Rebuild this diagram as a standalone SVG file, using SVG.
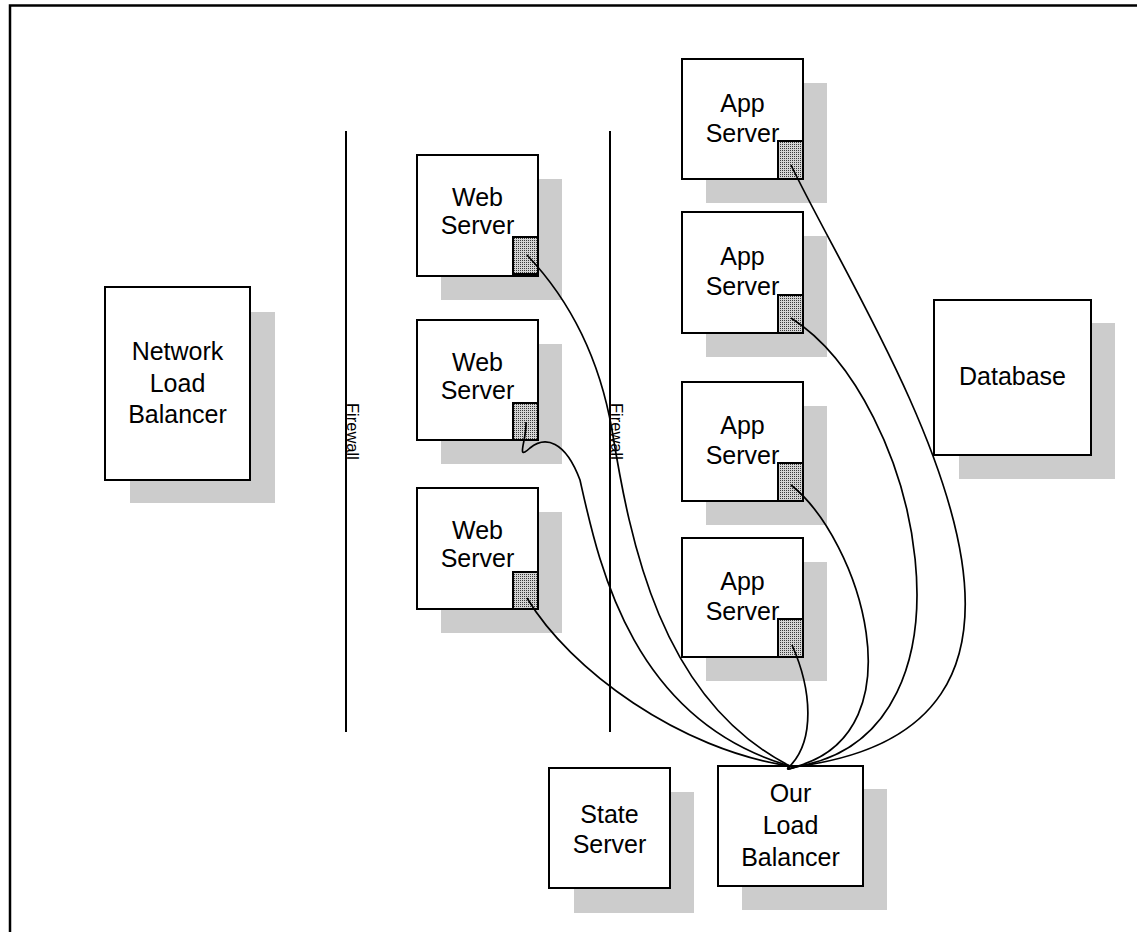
<svg xmlns="http://www.w3.org/2000/svg" width="1137" height="932" viewBox="0 0 1137 932">
  <defs>
    <pattern id="stipple" width="2" height="2" patternUnits="userSpaceOnUse">
      <rect width="2" height="2" fill="#d4d4d4"/>
      <rect width="1" height="1" fill="#3a3a3a"/>
    </pattern>
  </defs>
  <style>
    .shadow { fill: #cccccc; }
    .box { fill: #ffffff; stroke: #000; stroke-width: 2; }
    .port { fill: url(#stipple); stroke: #000; stroke-width: 2; }
    .label { font-family: "Liberation Sans", Arial, sans-serif; font-size: 25px; fill: #000; text-anchor: middle; }
    .fw { font-family: "Liberation Sans", Arial, sans-serif; font-size: 16.5px; fill: #000; }
    .wall { stroke: #000; stroke-width: 2; }
    .link { fill: none; stroke: #000; stroke-width: 1.7; }
  </style>

  <rect width="1137" height="932" fill="#ffffff"/>
  <!-- page frame -->
  <path d="M10,940 V5.5 H1145" fill="none" stroke="#000" stroke-width="2.5"/>

  <!-- firewalls -->
  <g id="firewall-1">
    <line class="wall" x1="346" y1="131" x2="346" y2="732"/>
    <text class="fw" transform="translate(347,403) rotate(90)">Firewall</text>
  </g>
  <g id="firewall-2">
    <line class="wall" x1="610" y1="131" x2="610" y2="732"/>
    <text class="fw" transform="translate(611,403) rotate(90)">Firewall</text>
  </g>

  <g id="network-load-balancer">
    <rect class="shadow" x="130" y="312" width="145" height="191"/>
    <rect class="box" x="105" y="287" width="145" height="193"/>
    <text class="label" x="177.5" y="360">Network</text>
    <text class="label" x="177.5" y="392">Load</text>
    <text class="label" x="177.5" y="423">Balancer</text>
  </g>

  <g id="web-server-1">
    <rect class="shadow" x="441" y="179" width="121" height="121"/>
    <rect class="box" x="417" y="155" width="121" height="121"/>
    <text class="label" x="477.5" y="206">Web</text>
    <text class="label" x="477.5" y="234">Server</text>
    <rect class="port" x="513" y="237" width="25" height="37"/>
  </g>
  <g id="web-server-2">
    <rect class="shadow" x="441" y="344" width="121" height="120"/>
    <rect class="box" x="417" y="320" width="121" height="120"/>
    <text class="label" x="477.5" y="371">Web</text>
    <text class="label" x="477.5" y="399">Server</text>
    <rect class="port" x="513" y="403" width="25" height="37"/>
  </g>
  <g id="web-server-3">
    <rect class="shadow" x="441" y="512" width="121" height="121"/>
    <rect class="box" x="417" y="488" width="121" height="121"/>
    <text class="label" x="477.5" y="539">Web</text>
    <text class="label" x="477.5" y="567">Server</text>
    <rect class="port" x="513" y="572" width="25" height="37"/>
  </g>

  <g id="app-server-1">
    <rect class="shadow" x="706" y="83" width="121" height="120"/>
    <rect class="box" x="682" y="59" width="121" height="120"/>
    <text class="label" x="742.5" y="112">App</text>
    <text class="label" x="742.5" y="142">Server</text>
    <rect class="port" x="778" y="141" width="25" height="38"/>
  </g>
  <g id="app-server-2">
    <rect class="shadow" x="706" y="236" width="121" height="121"/>
    <rect class="box" x="682" y="212" width="121" height="121"/>
    <text class="label" x="742.5" y="265">App</text>
    <text class="label" x="742.5" y="295">Server</text>
    <rect class="port" x="778" y="295" width="25" height="38"/>
  </g>
  <g id="app-server-3">
    <rect class="shadow" x="706" y="406" width="121" height="119"/>
    <rect class="box" x="682" y="382" width="121" height="119"/>
    <text class="label" x="742.5" y="434">App</text>
    <text class="label" x="742.5" y="464">Server</text>
    <rect class="port" x="778" y="463" width="25" height="38"/>
  </g>
  <g id="app-server-4">
    <rect class="shadow" x="706" y="562" width="121" height="119"/>
    <rect class="box" x="682" y="538" width="121" height="119"/>
    <text class="label" x="742.5" y="590">App</text>
    <text class="label" x="742.5" y="620">Server</text>
    <rect class="port" x="778" y="619" width="25" height="38"/>
  </g>

  <g id="database">
    <rect class="shadow" x="959" y="323" width="156" height="156"/>
    <rect class="box" x="934" y="300" width="157" height="155"/>
    <text class="label" x="1012.5" y="385">Database</text>
  </g>

  <g id="state-server">
    <rect class="shadow" x="574" y="792" width="120" height="121"/>
    <rect class="box" x="549" y="768" width="121" height="120"/>
    <text class="label" x="609.5" y="823">State</text>
    <text class="label" x="609.5" y="853">Server</text>
  </g>

  <g id="our-load-balancer">
    <rect class="shadow" x="742" y="789" width="145" height="121"/>
    <rect class="box" x="718" y="766" width="145" height="120"/>
    <text class="label" x="790.5" y="802">Our</text>
    <text class="label" x="790.5" y="834">Load</text>
    <text class="label" x="790.5" y="866">Balancer</text>
  </g>

  <!-- links from each server port down to our load balancer -->
  <g id="connectors">
    <path class="link" d="M527,255 C565,295 598,350 612,430 C630,540 660,700 790,766"/>
    <path class="link" d="M526,422 C527,440 515,462 530,448 C545,436 565,440 580,480 C598,560 630,720 790,766"/>
    <path class="link" d="M527,598 C570,670 680,750 790,766"/>
    <path class="link" d="M791,165 C870,330 1135,720 800,766 C790,768 785,771 790,766"/>
    <path class="link" d="M791,318 C920,400 990,730 800,766 C790,769 784,771 790,766"/>
    <path class="link" d="M791,485 C860,540 920,730 798,766 C790,769 785,770 790,766"/>
    <path class="link" d="M792,645 C812,690 815,740 790,766"/>
  </g>
</svg>
